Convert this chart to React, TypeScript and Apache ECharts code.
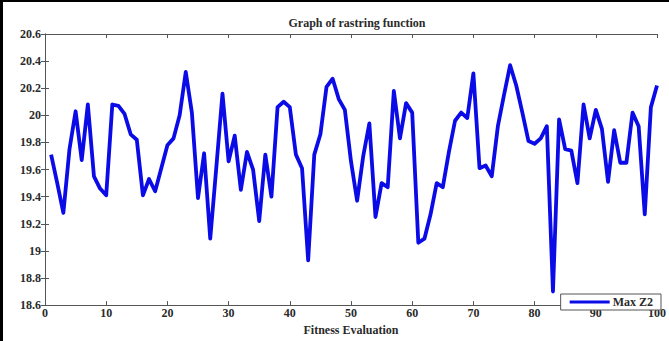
import React, { useEffect, useRef } from "react";
import * as echarts from "echarts";

const xValues: number[] = Array.from({ length: 100 }, (_, i) => i + 1);
const maxZ2: number[] = [
  19.71, 19.5, 19.28, 19.75, 20.03, 19.67, 20.08, 19.55, 19.46, 19.41,
  20.08, 20.07, 20.01, 19.86, 19.82, 19.41, 19.53, 19.44, 19.61, 19.78,
  19.83, 20.0, 20.32, 20.02, 19.39, 19.72, 19.09, 19.62, 20.16, 19.66,
  19.85, 19.45, 19.73, 19.6, 19.22, 19.71, 19.4, 20.06, 20.1, 20.06,
  19.71, 19.61, 18.93, 19.71, 19.86, 20.21, 20.27, 20.12, 20.04, 19.66,
  19.37, 19.7, 19.94, 19.25, 19.5, 19.47, 20.18, 19.83, 20.09, 20.02,
  19.06, 19.09, 19.27, 19.5, 19.47, 19.73, 19.96, 20.02, 19.98, 20.31,
  19.61, 19.63, 19.55, 19.92, 20.15, 20.37, 20.22, 20.02, 19.81, 19.79,
  19.83, 19.92, 18.7, 19.97, 19.75, 19.74, 19.5, 20.08, 19.83, 20.04,
  19.9, 19.51, 19.89, 19.65, 19.65, 20.02, 19.92, 19.27, 20.06, 20.22,
];
const titleText = "Graph of rastring function";
const xAxisName = "Fitness Evaluation";
const seriesName = "Max Z2";

const FONT = "'Liberation Serif', 'DejaVu Serif', serif";
const AXIS_COLOR = "#555";
const TEXT_COLOR = "#2a2a2a";

export default function App() {
  const ref = useRef<HTMLDivElement>(null);
  useEffect(() => {
    if (!ref.current) return;
    const chart = echarts.init(ref.current, undefined, { renderer: "svg" });
    const data = xValues.map((x, i) => [x, maxZ2[i]]);
    const axisCommon = {
      axisLine: { show: true, lineStyle: { color: AXIS_COLOR, width: 1 } },
      axisTick: { show: true, inside: true, length: 4, lineStyle: { color: AXIS_COLOR } },
      splitLine: { show: false },
    };
    const labelStyle = { fontFamily: FONT, fontSize: 12, fontWeight: "bold", color: TEXT_COLOR };
    chart.setOption({
      animation: false,
      backgroundColor: "#fff",
      title: {
        text: titleText,
        left: 352,
        textAlign: "center",
        top: 12,
        textStyle: { ...labelStyle },
      },
      grid: { left: 45, right: 8, top: 34, bottom: 31 },
      legend: {
        data: [seriesName],
        right: 8,
        bottom: 31,
        orient: "horizontal",
        backgroundColor: "#fff",
        borderColor: AXIS_COLOR,
        borderWidth: 1,
        borderRadius: 0,
        padding: [2, 8, 2, 9],
        itemWidth: 40,
        itemHeight: 3,
        itemGap: 2,
        icon: "rect",
        textStyle: { ...labelStyle, padding: [0, 0, 0, -2] },
      },
      xAxis: [
        {
          type: "value",
          min: 0,
          max: 100,
          interval: 10,
          name: xAxisName,
          nameLocation: "middle",
          nameGap: 17,
          nameTextStyle: { ...labelStyle },
          ...axisCommon,
          axisLabel: { ...labelStyle, margin: 2, showMaxLabel: true },
        },
        {
          type: "value",
          position: "top",
          min: 0,
          max: 100,
          interval: 10,
          ...axisCommon,
          axisLabel: { show: false },
        },
      ],
      yAxis: [
        {
          type: "value",
          min: 18.6,
          max: 20.6,
          interval: 0.2,
          ...axisCommon,
          axisLabel: {
            ...labelStyle,
            margin: 4,
            formatter: (v: number) => String(Math.round(v * 10) / 10),
          },
        },
        {
          type: "value",
          position: "right",
          min: 18.6,
          max: 20.6,
          interval: 0.2,
          ...axisCommon,
          axisLabel: { show: false },
        },
      ],
      series: [
        {
          name: seriesName,
          type: "line",
          data,
          showSymbol: false,
          symbol: "none",
          lineStyle: { color: "#0b0be8", width: 3.8, join: "round" },
          itemStyle: { color: "#0b0be8" },
          z: 3,
        },
      ],
      graphic: [
        { type: "rect", left: 0, top: 0, shape: { width: 3, height: 341 }, style: { fill: "#000" }, z: 10 },
        { type: "rect", left: 0, top: 0, shape: { width: 669, height: 2 }, style: { fill: "#000" }, z: 10 },
      ],
    });
    return () => chart.dispose();
  }, []);
  return <div ref={ref} style={{ width: 669, height: 341, position: "absolute", left: 0, top: 0 }} />;
}
